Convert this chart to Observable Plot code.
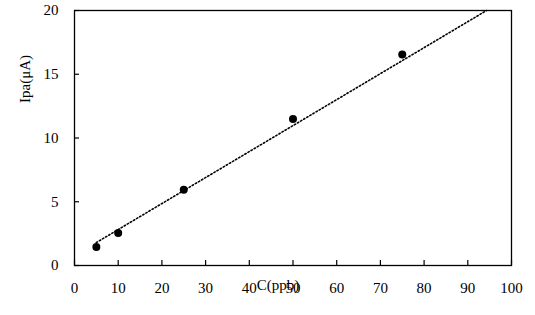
<!DOCTYPE html>
<html>
<head>
<meta charset="utf-8">
<script src="https://cdn.jsdelivr.net/npm/d3@7"></script>
<script src="https://cdn.jsdelivr.net/npm/@observablehq/plot@0.6"></script>
<style>
  html, body { margin: 0; padding: 0; background: #fff; }
  svg text { font-family: 'Liberation Serif', 'Times New Roman', serif; }
</style>
</head>
<body>
<div id="chart"></div>
<script>
const concentration = [5, 10, 25, 50, 75];
const current = [1.45, 2.55, 5.95, 11.5, 16.55];
const trendX = [5, 94.3];
const trendY = [1.8, 20];
const xTicks = [0, 10, 20, 30, 40, 50, 60, 70, 80, 90, 100];
const yTicks = [0, 5, 10, 15, 20];

const points = concentration.map((c, i) => ({c, v: current[i]}));
const trend = trendX.map((c, i) => ({c, v: trendY[i]}));
const font = "'Liberation Serif', 'Times New Roman', serif";

const W = 535, H = 315, ML = 74, MR = 24, MT = 10, MB = 50, TICK = 5;

const chart = Plot.plot({
  width: W,
  height: H,
  marginLeft: ML,
  marginRight: MR,
  marginTop: MT,
  marginBottom: MB,
  style: {fontFamily: font, fontSize: "15px", color: "#000", background: "#fff"},
  x: {domain: [0, 100]},
  y: {domain: [0, 20]},
  marks: [
    Plot.ruleX(xTicks, {x: d => d, insetTop: H - MT - MB - TICK, stroke: "#000", strokeWidth: 1.2}),
    Plot.ruleY(yTicks, {y: d => d, insetRight: W - ML - MR - TICK, stroke: "#000", strokeWidth: 1.2}),
    Plot.frame({stroke: "#000", strokeWidth: 1.3}),
    Plot.axisX({ticks: xTicks, tickSize: 0, tickPadding: 17, label: null, fontSize: 15, fontFamily: font}),
    Plot.axisY({ticks: yTicks, tickSize: 0, tickPadding: 16, label: null, fontSize: 15, fontFamily: font}),
    Plot.line(trend, {x: "c", y: "v", stroke: "#000", strokeWidth: 1.6, strokeDasharray: "1.4,2.2"}),
    Plot.dot(points, {x: "c", y: "v", r: 4, fill: "#000", stroke: "none"}),
    Plot.text(["C(ppb)"], {frameAnchor: "bottom", text: d => d, dx: -15, dy: 24, fontSize: 15, fontFamily: font}),
    Plot.text(["Ipa(μA)"], {frameAnchor: "left", text: d => d, dx: -49, dy: -35, rotate: -90, fontSize: 15, fontFamily: font})
  ]
});
document.getElementById("chart").appendChild(chart);
</script>
</body>
</html>
